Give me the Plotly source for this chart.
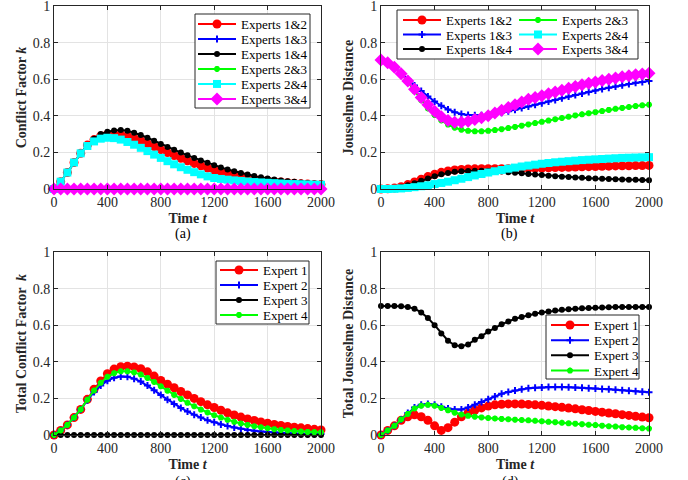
import plotly.graph_objects as go

W, H = 688, 480

# ---------------- data ----------------
t = list(range(0, 2001, 50))

# (a) Conflict factor k between expert pairs
a_12 = [0, .04, .09, .145, .195, .24, .27, .29, .298, .30, .297, .29, .278, .264, .248, .232, .215, .199, .183, .168,
        .154, .14, .127, .115, .104, .094, .085, .076, .069, .062, .056, .05, .046, .041, .038, .034, .032, .029, .027, .025, .024]
a_13 = [0, 0, 0, 0, 0, 0, 0, 0, 0, 0, 0, 0, 0, 0, 0, 0, 0, 0, 0, 0, 0, 0, 0, 0, 0, 0, 0, 0, 0, 0, 0, 0, 0, 0, 0, 0, 0, 0, 0, 0, 0]
a_14 = [0, .04, .09, .145, .195, .24, .275, .30, .313, .32, .322, .318, .308, .295, .28, .263, .246, .23, .214, .199,
        .184, .17, .156, .143, .13, .118, .107, .097, .088, .079, .071, .064, .058, .052, .047, .043, .039, .035, .032, .03, .028]
a_23 = [0, 0, 0, 0, 0, 0, 0, 0, 0, 0, 0, 0, 0, 0, 0, 0, 0, 0, 0, 0, 0, 0, 0, 0, 0, 0, 0, 0, 0, 0, 0, 0, 0, 0, 0, 0, 0, 0, 0, 0, 0]
a_24 = [0, .04, .09, .145, .195, .235, .26, .275, .28, .278, .27, .257, .242, .225, .207, .188, .17, .152, .135, .119,
        .105, .092, .08, .069, .06, .055, .051, .047, .044, .041, .038, .036, .034, .032, .03, .028, .027, .026, .025, .024, .023]
a_34 = [0, 0, 0, 0, 0, 0, 0, 0, 0, 0, 0, 0, 0, 0, 0, 0, 0, 0, 0, 0, 0, 0, 0, 0, 0, 0, 0, 0, 0, 0, 0, 0, 0, 0, 0, 0, 0, 0, 0, 0, 0]

# (b) Jousselme distance between expert pairs
b_12 = [0, .001, .005, .012, .024, .038, .053, .068, .08, .091, .099, .104, .107, .109, .11, .111, .111, .111, .111, .111,
        .111, .112, .113, .114, .115, .116, .117, .118, .119, .12, .121, .122, .123, .124, .125, .126, .127, .127, .128, .128, .129]
b_13 = [.705, .69, .665, .635, .6, .565, .535, .505, .478, .455, .435, .42, .41, .405, .403, .403, .405, .41, .417, .425,
        .433, .442, .451, .46, .469, .478, .487, .496, .505, .514, .522, .53, .538, .546, .553, .56, .567, .574, .58, .585, .59]
b_14 = [0, .001, .004, .01, .02, .032, .045, .058, .07, .08, .088, .094, .097, .099, .1, .1, .099, .097, .095, .092,
        .089, .086, .082, .079, .076, .073, .07, .067, .065, .063, .061, .059, .057, .056, .054, .053, .052, .051, .05, .049, .048]
b_23 = [.705, .69, .665, .63, .585, .535, .485, .44, .405, .375, .352, .335, .324, .318, .315, .315, .318, .322, .327, .333,
        .339, .346, .353, .36, .367, .374, .381, .388, .395, .402, .408, .414, .42, .426, .432, .438, .443, .448, .453, .457, .461]
b_24 = [0, 0, .001, .003, .006, .01, .015, .02, .027, .033, .04, .048, .056, .065, .074, .082, .09, .097, .104, .111,
        .117, .123, .128, .133, .138, .142, .146, .149, .152, .155, .158, .16, .162, .164, .166, .168, .17, .171, .172, .173, .174]
b_34 = [.705, .69, .665, .63, .59, .545, .5, .46, .425, .395, .375, .365, .365, .37, .38, .39, .40, .415, .43, .445,
        .46, .475, .49, .5, .51, .52, .53, .54, .55, .56, .57, .578, .585, .593, .60, .607, .613, .619, .624, .629, .633]

# (c) Total conflict factor k per expert
c_1 = [0, .025, .055, .095, .14, .195, .25, .295, .335, .36, .373, .376, .372, .362, .345, .322, .298, .278, .258, .238,
       .219, .2, .182, .165, .15, .135, .121, .109, .098, .088, .079, .071, .064, .058, .052, .047, .043, .039, .035, .031, .028]
c_2 = [0, .025, .055, .095, .14, .19, .235, .27, .297, .313, .32, .318, .308, .292, .27, .245, .218, .193, .17, .148,
       .128, .11, .095, .081, .069, .058, .049, .041, .034, .028, .023, .019, .016, .013, .011, .009, .008, .007, .006, .005, .005]
c_3 = [0, 0, 0, 0, 0, 0, 0, 0, 0, 0, 0, 0, 0, 0, 0, 0, 0, 0, 0, 0, 0, 0, 0, 0, 0, 0, 0, 0, 0, 0, 0, 0, 0, 0, 0, 0, 0, 0, 0, 0, 0]
c_4 = [0, .025, .055, .095, .14, .193, .243, .285, .318, .338, .348, .348, .342, .33, .312, .29, .266, .242, .219, .197,
       .176, .157, .139, .123, .108, .095, .083, .072, .063, .055, .048, .042, .037, .032, .028, .025, .022, .019, .017, .016, .015]

# (d) Total Jousselme distance per expert
d_1 = [0, .025, .05, .08, .1, .11, .1, .08, .05, .025, .04, .07, .1, .12, .135, .148, .158, .165, .168, .17,
       .17, .169, .167, .165, .162, .158, .155, .151, .147, .143, .138, .134, .129, .125, .12, .116, .111, .107, .102, .098, .094]
d_2 = [0, .025, .05, .085, .12, .15, .165, .17, .165, .155, .145, .14, .14, .15, .165, .18, .195, .21, .225, .235,
       .243, .25, .255, .258, .26, .262, .262, .262, .261, .26, .258, .256, .254, .252, .25, .247, .245, .242, .239, .236, .233]
d_3 = [.705, .705, .705, .703, .70, .69, .67, .64, .60, .555, .515, .49, .485, .495, .52, .54, .565, .585, .605, .62,
       .635, .645, .655, .663, .67, .675, .68, .684, .687, .69, .692, .694, .696, .697, .698, .699, .699, .70, .70, .70, .70]
d_4 = [0, .025, .05, .085, .115, .145, .16, .165, .16, .148, .135, .122, .112, .105, .1, .096, .093, .09, .088, .086,
       .084, .082, .08, .078, .075, .072, .07, .067, .064, .062, .059, .056, .054, .051, .048, .046, .043, .041, .039, .037, .035]

pair_names = ["Experts 1&2", "Experts 1&3", "Experts 1&4", "Experts 2&3", "Experts 2&4", "Experts 3&4"]
expert_names = ["Expert 1", "Expert 2", "Expert 3", "Expert 4"]
x_ticks = [0, 400, 800, 1200, 1600, 2000]
y_ticks = [0, 0.2, 0.4, 0.6, 0.8, 1]
y_tick_text = ["0", "0.2", "0.4", "0.6", "0.8", "1"]

# ---------------- styles ----------------
FONT = "Liberation Serif, Times New Roman, serif"
AX = "#262626"
pair_styles = [
    dict(color="#ff0000", symbol="circle", size=9, lw=0),
    dict(color="#0000ff", symbol="cross-thin-open", size=5, lw=2),
    dict(color="#000000", symbol="circle", size=6, lw=0),
    dict(color="#00ff00", symbol="asterisk-open", size=5, lw=2),
    dict(color="#00ffff", symbol="square", size=8, lw=0),
    dict(color="#ff00ff", symbol="diamond", size=10, lw=0),
]
exp_styles = [pair_styles[0], pair_styles[1], pair_styles[2], pair_styles[3]]

fig = go.Figure()

def px_x(p):
    return p / W

def px_y(p):
    return 1 - p / H

# panel geometry (pixels)
panels = {
    "a": dict(x=(54, 321), y=(6, 189), ax=("x", "y")),
    "b": dict(x=(381, 649), y=(6, 189), ax=("x2", "y2")),
    "c": dict(x=(54, 321), y=(252, 435), ax=("x3", "y3")),
    "d": dict(x=(381, 649), y=(252, 435), ax=("x4", "y4")),
}

legend_layout = {}
shapes = []
LEG_OFF = 15
leg_counter = [0]

def add_series(panel, names, series, styles, leg_pos):
    xa, ya = panels[panel]["ax"]
    for name, ys, st, (lx, ly) in zip(names, series, styles, leg_pos):
        leg_counter[0] += 1
        lid = "legend" if leg_counter[0] == 1 else f"legend{leg_counter[0]}"
        fig.add_trace(go.Scatter(
            x=t, y=ys, name=name, mode="lines+markers",
            xaxis=xa, yaxis=ya, cliponaxis=False, legend=lid,
            line=dict(color=st["color"], width=2),
            marker=dict(color=st["color"], symbol=st["symbol"], size=st["size"],
                        line=dict(color=st["color"], width=st["lw"])),
        ))
        legend_layout[lid] = dict(
            x=px_x(lx - 5), xanchor="left", y=px_y(ly - LEG_OFF), yanchor="top",
            bgcolor="rgba(0,0,0,0)", borderwidth=0, itemwidth=38,
            font=dict(family=FONT, size=13, color="#000000"),
        )

def box(x0, x1, y0, y1):
    shapes.append(dict(type="rect", xref="paper", yref="paper", layer="above",
                       x0=px_x(x0), x1=px_x(x1), y0=px_y(y1), y1=px_y(y0),
                       fillcolor="white", line=dict(color=AX, width=1)))

# (a)
add_series("a", pair_names, [a_12, a_13, a_14, a_23, a_24, a_34], pair_styles,
           [(198, 24 + 15 * i) for i in range(6)])
box(195, 310, 14, 108)
# (b) two columns
posb = [(403, 20), (403, 34.5), (403, 49), (519, 20), (519, 34.5), (519, 49)]
add_series("b", pair_names, [b_12, b_13, b_14, b_23, b_24, b_34], pair_styles, posb)
box(397, 638, 10, 59)
# (c)
add_series("c", expert_names, [c_1, c_2, c_3, c_4], exp_styles,
           [(220, 270 + 15 * i) for i in range(4)])
box(216, 309, 261, 324)
# (d)
add_series("d", expert_names, [d_1, d_2, d_3, d_4], exp_styles,
           [(551, 325 + 15.2 * i) for i in range(4)])
box(546, 639, 315, 379)

axis_common = dict(
    showline=True, linecolor=AX, linewidth=1, mirror="ticks",
    ticks="inside", ticklen=4, tickcolor=AX, tickwidth=1,
    showgrid=True, gridcolor="#e3e3e3", gridwidth=1, zeroline=False,
    tickfont=dict(family=FONT, size=14, color=AX), automargin=False,
    ticklabeloverflow="allow",
)
ytitles = {
    "a": "<b>Conflict Factor <i>k</i></b>",
    "b": "<b>Jousselme Distance</b>",
    "c": "<b>Total Conflict Factor  <i>k</i></b>",
    "d": "<b>Total Jousselme Distance</b>",
}
layout_axes = {}
for key, p in panels.items():
    xa, ya = p["ax"]
    xname = "xaxis" if xa == "x" else "xaxis" + xa[1:]
    yname = "yaxis" if ya == "y" else "yaxis" + ya[1:]
    layout_axes[xname] = dict(
        axis_common, domain=[px_x(p["x"][0]), px_x(p["x"][1])], anchor=ya,
        range=[0, 2000], tickvals=x_ticks,
        title=dict(text="<b>Time <i>t</i></b>", standoff=4,
                   font=dict(family=FONT, size=14, color=AX)),
    )
    layout_axes[yname] = dict(
        axis_common, domain=[px_y(p["y"][1]), px_y(p["y"][0])], anchor=xa,
        range=[0, 1], tickvals=y_ticks, ticktext=y_tick_text,
        title=dict(text=ytitles[key], standoff=2,
                   font=dict(family=FONT, size=14, color=AX)),
    )

annotations = []
for lab, (cx, cy) in {"(a)": (183, 234), "(b)": (509, 234), "(c)": (183, 482), "(d)": (510, 482)}.items():
    annotations.append(dict(text=lab, x=px_x(cx), y=px_y(cy), xref="paper", yref="paper",
                            xanchor="center", yanchor="middle", showarrow=False,
                            font=dict(family=FONT, size=14, color="#000000")))

fig.update_layout(
    width=W, height=H, margin=dict(l=0, r=0, t=0, b=0),
    paper_bgcolor="white", plot_bgcolor="white",
    shapes=shapes, annotations=annotations, showlegend=True,
    **layout_axes, **legend_layout,
)

fig.write_html("out.html", config={"displayModeBar": False},
               post_script="document.body.style.margin='0';")
